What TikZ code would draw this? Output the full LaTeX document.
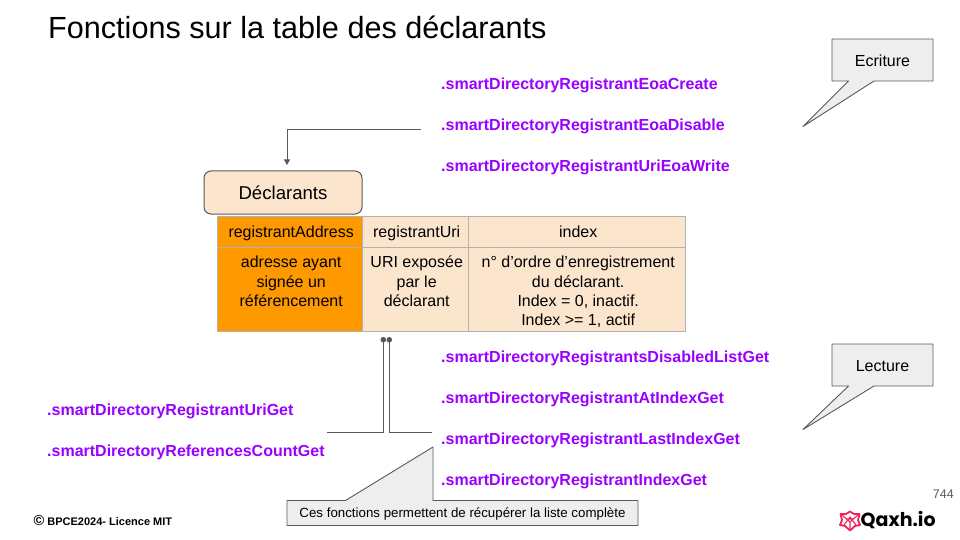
\documentclass[tikz,border=0pt]{standalone}
\usepackage{fontspec}
\setmainfont{Liberation Sans}
\newfontfamily\logofont{Poppins}
\usetikzlibrary{arrows.meta,calc}
\definecolor{peach}{HTML}{FCE5CD}
\definecolor{orng}{HTML}{FF9900}
\definecolor{purp}{HTML}{9900FF}
\definecolor{edge}{HTML}{595959}
\definecolor{notefill}{HTML}{EEEEEE}
\definecolor{qaxh}{HTML}{F0245C}
\newcommand{\cellstrut}{\rule{0pt}{12pt}}
\tikzset{
  funcname/.style={anchor=west,inner sep=0pt,text=purp,text height=12pt,text depth=3.5pt,font=\fontsize{16}{19}\selectfont\bfseries},
  cellbox/.style={draw=black!30,fill=peach,anchor=north west,inner sep=0pt},
  celltext/.style={inner sep=0pt,align=center,xshift=1.5pt,font=\fontsize{16}{19.3}\selectfont},
  headtext/.style={celltext,yshift=-2pt,text height=12pt,text depth=3.5pt},
  bodytext/.style={celltext,anchor=north,yshift=-9pt},
  notebox/.style={draw=edge,fill=notefill,line width=0.9pt,line join=round},
  notetext/.style={inner sep=0pt,font=\fontsize{16}{19}\selectfont},
  link/.style={draw=edge,line width=1pt},
}
\begin{document}
\begin{tikzpicture}[x=1pt,y=-1pt]
\useasboundingbox (0,0) rectangle (960,540);
\node[anchor=west,inner sep=0pt,font=\fontsize{30.6}{36}\selectfont] (title) at (48,27) {Fonctions sur la table des déclarants};
% writing functions
\node[funcname] (eoacreate) at (441,85.5) {.smartDirectoryRegistrantEoaCreate};
\node[funcname] (eoadisable) at (441,126) {.smartDirectoryRegistrantEoaDisable};
\node[funcname] (uriwrite) at (441,167) {.smartDirectoryRegistrantUriEoaWrite};
\node[draw=edge,fill=peach,rounded corners=7pt,line width=1pt,minimum width=158pt,minimum height=43pt,inner sep=0pt,font=\fontsize{18.6}{22}\selectfont] (declarants) at (283,192.5) {Déclarants};
\coordinate (writefrom) at (421,129.3);
\coordinate (writeto) at (287,165);
\draw[link,-{Triangle[length=5.5pt,width=6pt]}] (writefrom) -| (writeto);
% table
\node[cellbox,fill=orng,minimum width=145pt,minimum height=30.5pt] (c11) at (217,216) {};
\node[cellbox,minimum width=106pt,minimum height=30.5pt] (c12) at (362,216) {};
\node[cellbox,minimum width=217pt,minimum height=30.5pt] (c13) at (468,216) {};
\node[cellbox,fill=orng,minimum width=145pt,minimum height=84pt] (c21) at (217,246.5) {};
\node[cellbox,minimum width=106pt,minimum height=84pt] (c22) at (362,246.5) {};
\node[cellbox,minimum width=217pt,minimum height=84pt] (c23) at (468,246.5) {};
\node[headtext] (t11) at (c11.center) {registrantAddress};
\node[headtext] (t12) at (c12.center) {registrantUri};
\node[headtext] (t13) at (c13.center) {index};
\node[bodytext] (t21) at (c21.north) {\cellstrut adresse ayant\\signée un\\référencement};
\node[bodytext] (t22) at (c22.north) {\cellstrut URI exposée\\par le\\déclarant};
\node[bodytext] (t23) at (c23.north) {\cellstrut n° d’ordre d’enregistrement\\du déclarant.\\Index = 0, inactif.\\Index >= 1, actif};
% reading functions
\node[funcname] (disabledlist) at (441,358.5) {.smartDirectoryRegistrantsDisabledListGet};
\node[funcname] (atindex) at (441,399) {.smartDirectoryRegistrantAtIndexGet};
\node[funcname] (lastindex) at (441,440.5) {.smartDirectoryRegistrantLastIndexGet};
\node[funcname] (indexget) at (441,481) {.smartDirectoryRegistrantIndexGet};
\node[funcname] (uriget) at (47,411) {.smartDirectoryRegistrantUriGet};
\node[funcname] (countget) at (47,452) {.smartDirectoryReferencesCountGet};
\coordinate (leftfrom) at (327,432.3);
\coordinate (leftto) at (383.3,337);
\coordinate (rightfrom) at (432,432.3);
\coordinate (rightto) at (389.3,337);
\draw[link,-{Circle[length=5.5pt]}] (leftfrom) -| (leftto);
\draw[link,-{Circle[length=5.5pt]}] (rightfrom) -| (rightto);
% notes
\draw[notebox] (832,39) -- (933,39) -- (933,81) -- (874,81) -- (803,126.5) -- (848.5,81) -- (832,81) -- cycle;
\node[notetext] (ecriture) at (882.5,60.5) {Ecriture};
\draw[notebox] (832,344) -- (933,344) -- (933,386) -- (874,386) -- (803,429.5) -- (848.5,386) -- (832,386) -- cycle;
\node[notetext] (lecture) at (882.5,366) {Lecture};
\draw[notebox] (287,500.5) -- (345.5,500.5) -- (433,447) -- (433,500.5) -- (638,500.5) -- (638,525.5) -- (287,525.5) -- cycle;
\node[inner sep=0pt,font=\fontsize{13.3}{16}\selectfont] (complete) at (462.5,513.5) {Ces fonctions permettent de récupérer la liste complète};
% footer
\node[anchor=west,inner sep=0pt,font=\fontsize{11}{13}\selectfont\bfseries] (licence) at (33.5,520) {\fontsize{14.5}{13}\selectfont©\fontsize{11}{13}\selectfont\ BPCE2024- Licence MIT};
\node[anchor=east,inner sep=0pt,text=edge,font=\fontsize{12.5}{15}\selectfont] (page) at (954,494.5) {744};
\node[anchor=west,inner sep=0pt,font=\logofont\fontsize{19}{24}\selectfont\bfseries] (qaxhname) at (860.5,520.5) {Qaxh.io};
\draw[qaxh,line width=1.8pt,line join=round] (850,511.5) -- (854,514) -- (859.5,514) -- (858,520) -- (860,525) -- (855,526) -- (850,530.5) -- (845,526) -- (840,525) -- (842,520) -- (840.5,514) -- (846,514) -- cycle;
\draw[qaxh,line width=1.1pt] (842,515) -- (850,522) -- (858,515) (850,522) -- (850,530) (844,525) -- (850,517) -- (856,525) (846,519) -- (854,519);
\end{tikzpicture}
\end{document}
